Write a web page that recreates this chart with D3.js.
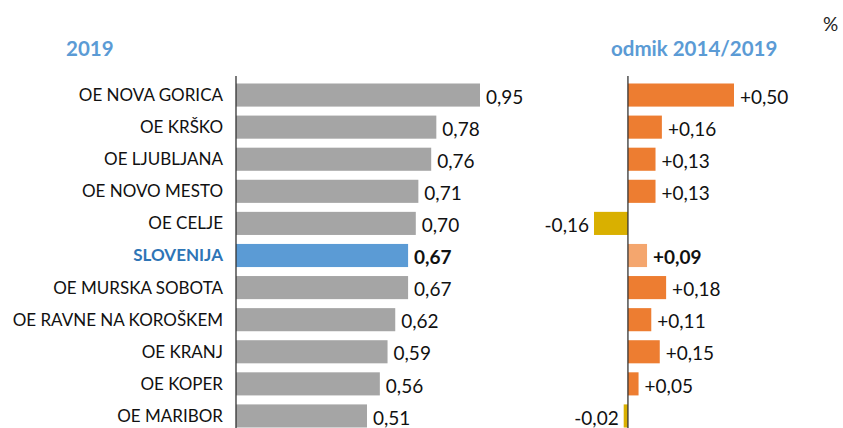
<!DOCTYPE html>
<html><head><meta charset="utf-8">
<script src="https://cdn.jsdelivr.net/npm/d3@7"></script>
<style>body{margin:0;background:#fff}text{font-family:Lato,"Noto Sans",sans-serif}</style>
</head><body>
<svg id="c" width="843" height="428"></svg>
<script>
const categories = ["OE NOVA GORICA","OE KRŠKO","OE LJUBLJANA","OE NOVO MESTO","OE CELJE","SLOVENIJA","OE MURSKA SOBOTA","OE RAVNE NA KOROŠKEM","OE KRANJ","OE KOPER","OE MARIBOR"];
const values2019 = [0.95,0.78,0.76,0.71,0.70,0.67,0.67,0.62,0.59,0.56,0.51];
const change = [0.50,0.16,0.13,0.13,-0.16,0.09,0.18,0.11,0.15,0.05,-0.02];
const highlight = "SLOVENIJA";
const fmt = v => v.toFixed(2).replace(".", ",");
const fmtS = v => (v > 0 ? "+" : "") + v.toFixed(2).replace(".", ",");

const svg = d3.select("#c");
const y = d3.scaleBand().domain(categories).range([79, 432]).paddingInner(0.28).paddingOuter(0.14);
const x1 = d3.scaleLinear().domain([0, 0.95]).range([236, 480]);
const x2 = d3.scaleLinear().domain([-0.16, 0.5]).range([594, 734]);

// titles
svg.append("text").attr("x", 66).attr("y", 56).attr("font-size", 20.5).attr("font-weight", "bold").attr("fill", "#5B9BD5").text("2019");
svg.append("text").attr("x", 611).attr("y", 56).attr("font-size", 20.5).attr("font-weight", "bold").attr("fill", "#5B9BD5").text("odmik 2014/2019");
svg.append("text").attr("x", 823).attr("y", 31).attr("font-size", 19).attr("fill", "#222").text("%");

// left bars
svg.selectAll(".b1").data(categories).join("rect")
  .attr("x", x1(0)).attr("y", d => y(d)).attr("height", y.bandwidth())
  .attr("width", (d, i) => x1(values2019[i]) - x1(0))
  .attr("fill", d => d === highlight ? "#5B9BD5" : "#A5A5A5");
svg.selectAll(".l1").data(categories).join("text")
  .attr("x", 223).attr("y", d => y(d) + y.bandwidth() / 2).attr("dy", "0.35em")
  .attr("text-anchor", "end").attr("font-size", 17)
  .attr("font-weight", d => d === highlight ? "bold" : "normal")
  .attr("fill", d => d === highlight ? "#2E75B6" : "#111").text(d => d);
svg.selectAll(".v1").data(categories).join("text")
  .attr("x", (d, i) => x1(values2019[i]) + 6).attr("y", d => y(d) + y.bandwidth() / 2 + 2).attr("dy", "0.35em")
  .attr("font-size", 19).attr("fill", "#111")
  .attr("font-weight", d => d === highlight ? "bold" : "normal")
  .text((d, i) => fmt(values2019[i]));

// right bars
svg.selectAll(".b2").data(categories).join("rect")
  .attr("x", (d, i) => x2(Math.min(0, change[i]))).attr("y", d => y(d)).attr("height", y.bandwidth())
  .attr("width", (d, i) => Math.abs(x2(change[i]) - x2(0)))
  .attr("fill", (d, i) => d === highlight ? "#F4A66E" : (change[i] < 0 ? "#D9B000" : "#ED7D31"));
svg.selectAll(".v2").data(categories).join("text")
  .attr("x", (d, i) => change[i] < 0 ? x2(change[i]) - 5 : x2(change[i]) + 6)
  .attr("text-anchor", (d, i) => change[i] < 0 ? "end" : "start")
  .attr("y", d => y(d) + y.bandwidth() / 2 + 2).attr("dy", "0.35em")
  .attr("font-size", 19).attr("fill", "#111")
  .attr("font-weight", d => d === highlight ? "bold" : "normal")
  .text((d, i) => fmtS(change[i]));

// axes lines
svg.append("line").attr("x1", x1(0)).attr("x2", x1(0)).attr("y1", 76).attr("y2", 428).attr("stroke", "#333").attr("stroke-width", 1.3);
svg.append("line").attr("x1", x2(0)).attr("x2", x2(0)).attr("y1", 76).attr("y2", 428).attr("stroke", "#333").attr("stroke-width", 1.3);
</script>
</body></html>
